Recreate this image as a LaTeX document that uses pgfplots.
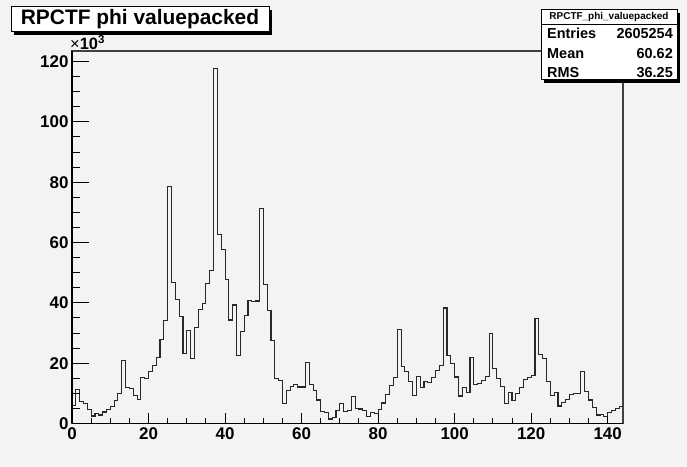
\documentclass[border=0pt]{standalone}
\usepackage{fontspec}
\setmainfont{Liberation Sans}
\usepackage{pgfplots}
\pgfplotsset{compat=1.18}
\definecolor{bg}{RGB}{243,243,243}
\definecolor{histcol}{RGB}{40,40,40}
\pgfplotstableread{
x y
0 6.1
1 11.3
2 7.2
3 6.6
4 4.5
5 2.5
6 3.2
7 2.8
8 3.8
9 4.5
10 5.6
11 7.6
12 9.8
13 21.0
14 12.0
15 11.7
16 9.3
17 8.1
18 15.3
19 15.0
20 17.2
21 19.2
22 22.0
23 27.7
24 34.1
25 78.7
26 46.7
27 41.2
28 35.4
29 23.3
30 30.8
31 21.5
32 31.8
33 37.9
34 39.9
35 46.5
36 50.8
37 117.7
38 62.6
39 57.8
40 47.8
41 34.3
42 39.3
43 22.5
44 30.5
45 35.7
46 40.9
47 40.3
48 40.6
49 71.4
50 46.2
51 37.6
52 27.5
53 14.8
54 14.4
55 6.5
56 10.8
57 12.2
58 12.8
59 12.1
60 12.1
61 20.3
62 12.8
63 10.8
64 7.8
65 3.9
66 3.6
67 1.5
68 1.9
69 4.3
70 6.5
71 4.0
72 4.4
73 8.9
74 5.1
75 4.8
76 4.2
77 2.3
78 3.5
79 3.2
80 4.7
81 6.8
82 9.5
83 12.7
84 15.3
85 31.1
86 19.0
87 17.3
88 14.0
89 9.3
90 15.5
91 11.9
92 14.0
93 13.5
94 15.3
95 17.6
96 19.3
97 38.3
98 22.4
99 19.8
100 15.4
101 9.1
102 11.8
103 10.3
104 22.0
105 12.9
106 13.4
107 14.2
108 15.5
109 29.8
110 18.1
111 15.0
112 12.4
113 6.5
114 10.2
115 7.5
116 9.8
117 11.8
118 14.7
119 15.3
120 15.8
121 34.8
122 23.0
123 21.4
124 14.0
125 9.3
126 10.3
127 5.8
128 7.0
129 8.1
130 9.5
131 9.8
132 10.0
133 17.3
134 10.7
135 7.8
136 5.2
137 2.8
138 3.0
139 2.3
140 3.6
141 4.3
142 5.0
143 5.6
144 5.6
}\histdata
\pgfplotsset{rootframe/.style={
  at={(72bp,43.5bp)}, anchor=south west,
  scale only axis, width=551bp, height=372.5bp,
  xmin=0, xmax=144, ymin=0, ymax=123.5,
  tick align=inside,
  xtick pos=bottom, ytick pos=left,
  tick style={black, line width=1bp},
  /pgf/number format/assume math mode=true,
  xticklabel style={font=\bfseries\fontsize{17}{17}\selectfont, yshift=-1bp},
  yticklabel style={font=\bfseries\fontsize{17}{17}\selectfont},
  clip=false,
}}
\begin{document}
\begin{tikzpicture}[x=1bp,y=1bp]
\fill[bg] (0,0) rectangle (687,467);
\useasboundingbox (0,0) rectangle (687,467);
% main axis: frame, x ticks, histogram
\begin{axis}[rootframe,
  xtick={0,20,...,140}, ytick=\empty,
  minor x tick num=3,
  major tick length=10bp, minor tick length=5bp,
  axis line style={black!75, line width=1.2bp},
  axis background/.style={fill=bg},
]
\addplot[const plot, color=histcol, line width=1.1bp] table[x=x,y=y] {\histdata};
\end{axis}
% overlay axis: y ticks only
\begin{axis}[rootframe,
  xtick=\empty, ytick={0,20,...,120},
  minor y tick num=3,
  major tick length=17bp, minor tick length=8bp,
  axis line style={draw=none},
]
\end{axis}
\draw[black, line width=1.2bp] (72,43.5) -- (72,416);
\draw[black, line width=1.2bp] (72,43.5) -- (623,43.5);
% x10^3
\node[anchor=south west, inner sep=0pt, font=\fontsize{16.5}{16.5}\selectfont] at (70,417) {×\textbf{10}\textsuperscript{\textbf{3}}};
% title box
\fill[black] (14,432) rectangle (272,457);
\draw[black, line width=1bp, fill=white] (11,435) rectangle (269,460);
\node[font=\bfseries\fontsize{21}{21}\selectfont, inner sep=0pt] at (140,447.5) {RPCTF phi valuepacked};
% stats box
\fill[black] (544,384) rectangle (680,454);
\draw[black, line width=1bp, fill=white] (541,387) rectangle (677,457);
\draw[black, line width=0.8bp] (541,443) -- (677,443);
\node[font=\bfseries\fontsize{10}{10}\selectfont, inner sep=0pt] at (609,450) {RPCTF\_phi\_valuepacked};
\node[font=\bfseries\fontsize{14.5}{14.5}\selectfont, inner sep=0pt, anchor=base west] at (547,428) {Entries};
\node[font=\bfseries\fontsize{14.5}{14.5}\selectfont, inner sep=0pt, anchor=base east] at (673,428) {2605254};
\node[font=\bfseries\fontsize{14.5}{14.5}\selectfont, inner sep=0pt, anchor=base west] at (547,408) {Mean};
\node[font=\bfseries\fontsize{14.5}{14.5}\selectfont, inner sep=0pt, anchor=base east] at (673,408) {60.62};
\node[font=\bfseries\fontsize{14.5}{14.5}\selectfont, inner sep=0pt, anchor=base west] at (547,389.5) {RMS};
\node[font=\bfseries\fontsize{14.5}{14.5}\selectfont, inner sep=0pt, anchor=base east] at (673,389.5) {36.25};
\end{tikzpicture}
\end{document}
